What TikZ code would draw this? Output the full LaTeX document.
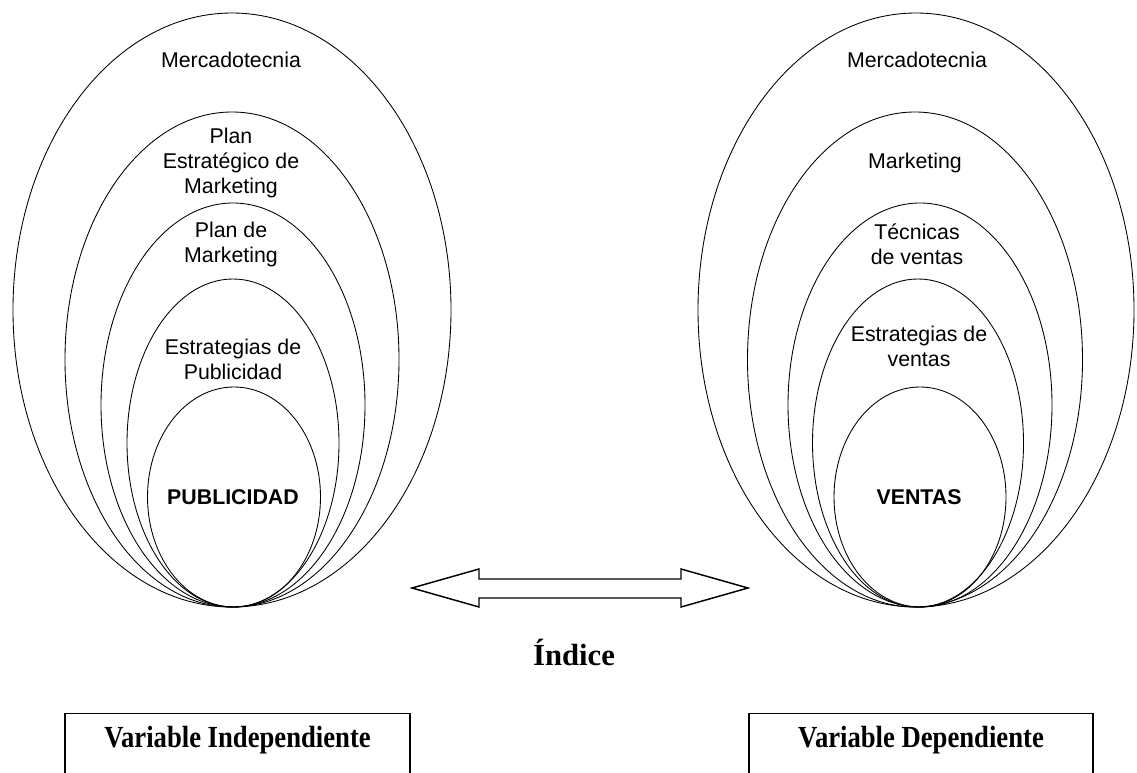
\documentclass[tikz,border=0pt]{standalone}
\usepackage{fontspec}
\setmainfont{Liberation Serif}
\newfontfamily\arialf{Liberation Sans}
\usetikzlibrary{shapes.geometric}
\begin{document}
\begin{tikzpicture}[x=0.75pt,y=-0.75pt,
  oval/.style={draw, ellipse, inner sep=0pt, line width=0.65pt},
  lbl/.style={font=\arialf\fontsize{16}{19}\selectfont, align=center, inner sep=0pt},
  blbl/.style={font=\arialf\bfseries\fontsize{16}{19}\selectfont, align=center, inner sep=0pt},
  varbox/.style={draw, rectangle, line width=1.1pt, anchor=north, inner sep=0pt, minimum height=60pt},
  vartext/.style={font=\bfseries\fontsize{20}{24}\selectfont, inner sep=0pt},
  bigarrow/.style={draw, line width=1.1pt, line join=miter}]
\useasboundingbox (0,0) rectangle (1137,773);
\clip (0,0) rectangle (1137,773);
% left nest
\node[oval, minimum width=328.5pt, minimum height=445.5pt] (L1) at (232,310) {};
\node[oval, minimum width=250.5pt, minimum height=371.25pt] (L2) at (232,359.5) {};
\node[oval, minimum width=198pt, minimum height=303pt] (L3) at (233,405) {};
\node[oval, minimum width=159pt, minimum height=246pt] (L4) at (233,443) {};
\node[oval, minimum width=129.75pt, minimum height=165pt] (L5) at (234,497) {};
\node[lbl] (tL1) at (231,60) {Mercadotecnia};
\node[lbl] (tL2) at (231,163) {Plan\\Estratégico de\\Marketing};
\node[lbl] (tL3) at (231,244.5) {Plan de\\Marketing};
\node[lbl] (tL4) at (233,359.5) {Estrategias de\\Publicidad};
\node[blbl] (tL5) at (233,497) {PUBLICIDAD};
% right nest
\node[oval, minimum width=327pt, minimum height=445.5pt] (R1) at (916,310) {};
\node[oval, minimum width=251.25pt, minimum height=371.25pt] (R2) at (915,359.5) {};
\node[oval, minimum width=198pt, minimum height=303pt] (R3) at (920,405) {};
\node[oval, minimum width=158.25pt, minimum height=246pt] (R4) at (918,443) {};
\node[oval, minimum width=129pt, minimum height=165pt] (R5) at (920,497) {};
\node[lbl] (tR1) at (917,60) {Mercadotecnia};
\node[lbl] (tR2) at (915,163) {Marketing};
\node[lbl] (tR3) at (917,244.5) {Técnicas\\de ventas};
\node[lbl] (tR4) at (919,346.5) {Estrategias de\\ventas};
\node[blbl] (tR5) at (919,497) {VENTAS};
% double arrow
\draw[bigarrow] (412,588) -- (479,569) -- (479,579) -- (681,579) -- (681,569) -- (748,588)
  -- (681,607) -- (681,598) -- (479,598) -- (479,607) -- cycle;
\node[font=\bfseries\fontsize{23}{27}\selectfont, inner sep=0pt] (idx) at (574,652) {Índice};
% variable boxes
\node[varbox, minimum width=258.75pt] (bI) at (237.5,713) {};
\node[vartext] (tI) at (237.5,740) {\scalebox{1}[1.15]{Variable Independiente}};
\node[varbox, minimum width=258pt] (bD) at (921,713) {};
\node[vartext] (tD) at (921,740) {\scalebox{1}[1.15]{Variable Dependiente}};
\end{tikzpicture}
\end{document}
